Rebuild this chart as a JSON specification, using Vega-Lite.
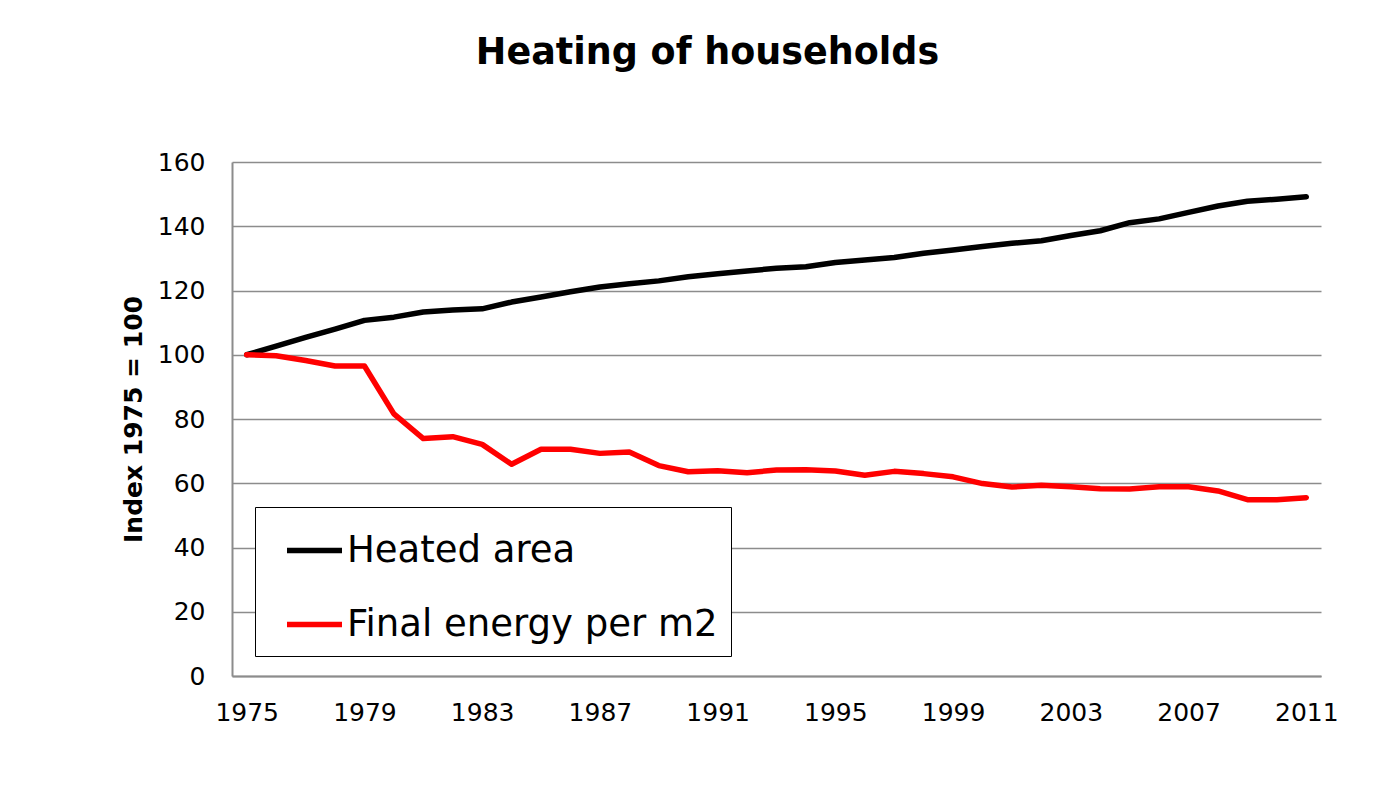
{
  "$schema": "https://vega.github.io/schema/vega-lite/v6.json",
  "width": 1089,
  "height": 514,
  "autosize": {"type": "none"},
  "padding": {"left": 232, "top": 162, "right": 62, "bottom": 114},
  "background": "white",
  "config": {
    "view": {"stroke": null},
    "font": "DejaVu Sans"
  },
  "title": {
    "text": "Heating of households",
    "font": "DejaVu Sans",
    "fontSize": 36.5,
    "fontWeight": "bold",
    "color": "black",
    "anchor": "middle",
    "frame": "group",
    "baseline": "alphabetic",
    "offset": 50,
    "dx": -69
  },
  "data": {
    "values": [
      {"year": 1975, "series": "Heated area", "value": 100},
      {"year": 1976, "series": "Heated area", "value": 102.7},
      {"year": 1977, "series": "Heated area", "value": 105.4},
      {"year": 1978, "series": "Heated area", "value": 108.0},
      {"year": 1979, "series": "Heated area", "value": 110.7},
      {"year": 1980, "series": "Heated area", "value": 111.7},
      {"year": 1981, "series": "Heated area", "value": 113.3},
      {"year": 1982, "series": "Heated area", "value": 113.9},
      {"year": 1983, "series": "Heated area", "value": 114.3},
      {"year": 1984, "series": "Heated area", "value": 116.4},
      {"year": 1985, "series": "Heated area", "value": 118.0},
      {"year": 1986, "series": "Heated area", "value": 119.6},
      {"year": 1987, "series": "Heated area", "value": 121.1},
      {"year": 1988, "series": "Heated area", "value": 122.1},
      {"year": 1989, "series": "Heated area", "value": 123.0},
      {"year": 1990, "series": "Heated area", "value": 124.3},
      {"year": 1991, "series": "Heated area", "value": 125.2},
      {"year": 1992, "series": "Heated area", "value": 126.1},
      {"year": 1993, "series": "Heated area", "value": 126.9},
      {"year": 1994, "series": "Heated area", "value": 127.4},
      {"year": 1995, "series": "Heated area", "value": 128.7},
      {"year": 1996, "series": "Heated area", "value": 129.5},
      {"year": 1997, "series": "Heated area", "value": 130.3},
      {"year": 1998, "series": "Heated area", "value": 131.6},
      {"year": 1999, "series": "Heated area", "value": 132.6},
      {"year": 2000, "series": "Heated area", "value": 133.7},
      {"year": 2001, "series": "Heated area", "value": 134.7},
      {"year": 2002, "series": "Heated area", "value": 135.5},
      {"year": 2003, "series": "Heated area", "value": 137.1},
      {"year": 2004, "series": "Heated area", "value": 138.6},
      {"year": 2005, "series": "Heated area", "value": 141.1},
      {"year": 2006, "series": "Heated area", "value": 142.3},
      {"year": 2007, "series": "Heated area", "value": 144.3},
      {"year": 2008, "series": "Heated area", "value": 146.3},
      {"year": 2009, "series": "Heated area", "value": 147.8},
      {"year": 2010, "series": "Heated area", "value": 148.4},
      {"year": 2011, "series": "Heated area", "value": 149.2},
      {"year": 1975, "series": "Final energy per m2", "value": 100},
      {"year": 1976, "series": "Final energy per m2", "value": 99.7},
      {"year": 1977, "series": "Final energy per m2", "value": 98.2},
      {"year": 1978, "series": "Final energy per m2", "value": 96.5},
      {"year": 1979, "series": "Final energy per m2", "value": 96.5},
      {"year": 1980, "series": "Final energy per m2", "value": 81.6},
      {"year": 1981, "series": "Final energy per m2", "value": 73.9},
      {"year": 1982, "series": "Final energy per m2", "value": 74.5},
      {"year": 1983, "series": "Final energy per m2", "value": 72.1},
      {"year": 1984, "series": "Final energy per m2", "value": 65.9},
      {"year": 1985, "series": "Final energy per m2", "value": 70.6},
      {"year": 1986, "series": "Final energy per m2", "value": 70.6},
      {"year": 1987, "series": "Final energy per m2", "value": 69.3},
      {"year": 1988, "series": "Final energy per m2", "value": 69.7},
      {"year": 1989, "series": "Final energy per m2", "value": 65.5},
      {"year": 1990, "series": "Final energy per m2", "value": 63.6},
      {"year": 1991, "series": "Final energy per m2", "value": 63.9},
      {"year": 1992, "series": "Final energy per m2", "value": 63.3},
      {"year": 1993, "series": "Final energy per m2", "value": 64.1},
      {"year": 1994, "series": "Final energy per m2", "value": 64.2},
      {"year": 1995, "series": "Final energy per m2", "value": 63.8},
      {"year": 1996, "series": "Final energy per m2", "value": 62.5},
      {"year": 1997, "series": "Final energy per m2", "value": 63.7},
      {"year": 1998, "series": "Final energy per m2", "value": 63.0},
      {"year": 1999, "series": "Final energy per m2", "value": 62.0},
      {"year": 2000, "series": "Final energy per m2", "value": 59.9},
      {"year": 2001, "series": "Final energy per m2", "value": 58.8},
      {"year": 2002, "series": "Final energy per m2", "value": 59.4},
      {"year": 2003, "series": "Final energy per m2", "value": 58.9},
      {"year": 2004, "series": "Final energy per m2", "value": 58.3},
      {"year": 2005, "series": "Final energy per m2", "value": 58.2},
      {"year": 2006, "series": "Final energy per m2", "value": 58.9},
      {"year": 2007, "series": "Final energy per m2", "value": 58.9},
      {"year": 2008, "series": "Final energy per m2", "value": 57.6},
      {"year": 2009, "series": "Final energy per m2", "value": 54.9},
      {"year": 2010, "series": "Final energy per m2", "value": 54.9},
      {"year": 2011, "series": "Final energy per m2", "value": 55.5}
    ]
  },
  "encoding": {
    "x": {
      "field": "year",
      "type": "ordinal",
      "scale": {"type": "point", "padding": 0.5},
      "axis": {
        "title": null,
        "values": [1975, 1979, 1983, 1987, 1991, 1995, 1999, 2003, 2007, 2011],
        "labelAngle": 0,
        "labelFont": "DejaVu Sans",
        "labelFontSize": 25,
        "labelColor": "black",
        "labelPadding": 24,
        "ticks": false,
        "tickSize": 0,
        "domainColor": "#8c8c8c",
        "domainWidth": 2,
        "grid": false
      }
    },
    "y": {
      "field": "value",
      "type": "quantitative",
      "scale": {"domain": [0, 160], "nice": false},
      "axis": {
        "title": "Index 1975 = 100",
        "titleFont": "DejaVu Sans",
        "titleFontSize": 25,
        "titleFontWeight": "bold",
        "titleColor": "black",
        "titlePadding": 11,
        "values": [0, 20, 40, 60, 80, 100, 120, 140, 160],
        "labelFont": "DejaVu Sans",
        "labelFontSize": 25,
        "labelColor": "black",
        "labelPadding": 27,
        "ticks": false,
        "tickSize": 0,
        "domainColor": "#8c8c8c",
        "domainWidth": 2,
        "grid": true,
        "gridColor": "#8c8c8c",
        "gridWidth": 1.3
      }
    },
    "color": {
      "field": "series",
      "type": "nominal",
      "scale": {"domain": ["Heated area", "Final energy per m2"], "range": ["#000000", "#ff0000"]},
      "legend": {
        "title": null,
        "orient": "none",
        "legendX": 23,
        "legendY": 345,
        "direction": "vertical",
        "fillColor": "white",
        "strokeColor": "black",
        "padding": 13,
        "symbolOffset": 16,
        "symbolType": "stroke",
        "symbolSize": 3025,
        "symbolStrokeWidth": 5.5,
        "labelFont": "DejaVu Sans",
        "labelFontSize": 37,
        "labelColor": "black",
        "labelOffset": 2,
        "labelLimit": 800,
        "rowPadding": 25
      }
    }
  },
  "layer": [
    {
      "transform": [{"filter": "datum.series === 'Heated area'"}],
      "mark": {"type": "line", "strokeWidth": 5.5, "strokeCap": "round", "strokeJoin": "round"}
    },
    {
      "transform": [{"filter": "datum.series === 'Final energy per m2'"}],
      "mark": {"type": "line", "strokeWidth": 5.5, "strokeCap": "round", "strokeJoin": "round"}
    }
  ]
}
